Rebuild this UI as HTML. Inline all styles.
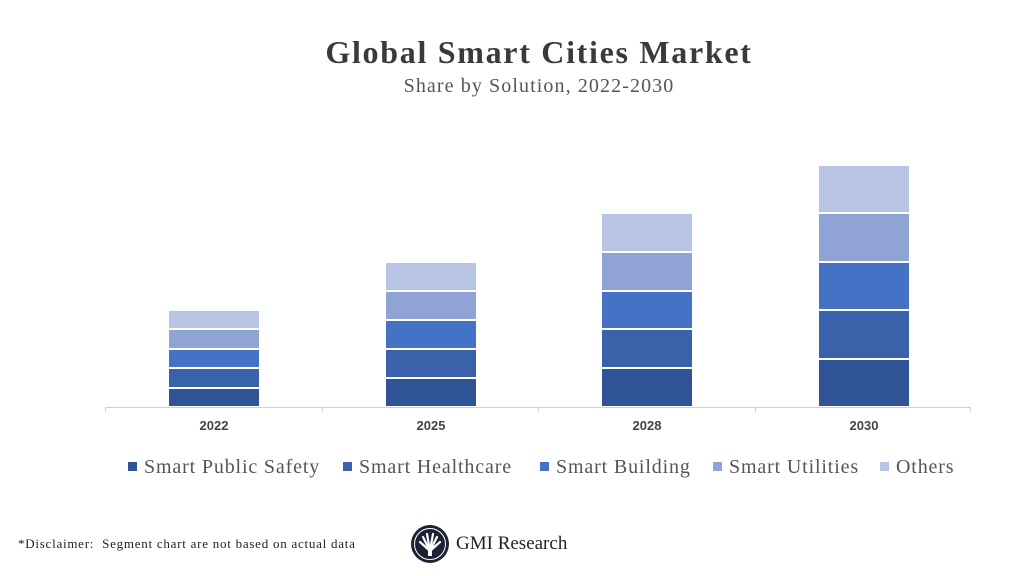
<!DOCTYPE html><html><head><style>
body{margin:0;width:1024px;height:576px;background:#fff;position:relative;overflow:hidden;font-family:"Liberation Serif",serif}
.t{position:absolute;left:27px;width:1024px;text-align:center}
.bar{position:absolute;width:90px;display:flex;flex-direction:column;gap:2px;bottom:170px}
.bar div{flex:1}
.s5{background:#b8c4e3}.s4{background:#8fa4d5}.s3{background:#4472c4}.s2{background:#3a62ab}.s1{background:#2f5394}
.xl{position:absolute;top:418px;width:90px;text-align:center;font:bold 13px "Liberation Sans",sans-serif;color:#444}
.tk{position:absolute;top:407px;width:1px;height:5px;background:#d0d0d0}
.lg{position:absolute;top:456px;font-size:20px;letter-spacing:0.85px;color:#555;white-space:nowrap}
.lg i{display:inline-block;width:9px;height:9px;margin-right:7px;vertical-align:2px}
</style></head><body>
<div class="t" style="top:34px;font-size:32px;font-weight:bold;color:#3a3a3a;letter-spacing:1.7px">Global Smart Cities Market</div>
<div class="t" style="top:75px;font-size:20px;color:#555;letter-spacing:1.1px">Share by Solution, 2022-2030</div>
<div style="position:absolute;left:105px;top:407px;width:866px;height:1px;background:#d0d0d0"></div>
<div class="tk" style="left:105px"></div><div class="tk" style="left:322px"></div><div class="tk" style="left:538px"></div><div class="tk" style="left:755px"></div><div class="tk" style="left:970px"></div>
<div class="bar" style="left:169px;height:95px"><div class="s5"></div><div class="s4"></div><div class="s3"></div><div class="s2"></div><div class="s1"></div></div>
<div class="bar" style="left:386px;height:143px"><div class="s5"></div><div class="s4"></div><div class="s3"></div><div class="s2"></div><div class="s1"></div></div>
<div class="bar" style="left:602px;height:192px"><div class="s5"></div><div class="s4"></div><div class="s3"></div><div class="s2"></div><div class="s1"></div></div>
<div class="bar" style="left:819px;height:240px"><div class="s5"></div><div class="s4"></div><div class="s3"></div><div class="s2"></div><div class="s1"></div></div>
<div class="xl" style="left:169px">2022</div><div class="xl" style="left:386px">2025</div><div class="xl" style="left:602px">2028</div><div class="xl" style="left:819px">2030</div>
<div class="lg" style="left:128px"><i class="s1"></i>Smart Public Safety</div>
<div class="lg" style="left:343px"><i class="s2"></i>Smart Healthcare</div>
<div class="lg" style="left:540px"><i class="s3"></i>Smart Building</div>
<div class="lg" style="left:713px"><i class="s4"></i>Smart Utilities</div>
<div class="lg" style="left:880px"><i class="s5"></i>Others</div>
<div style="position:absolute;left:18px;top:536px;font-size:13px;color:#222;letter-spacing:0.75px">*Disclaimer:&nbsp; Segment chart are not based on actual data</div>
<svg style="position:absolute;left:410px;top:524px" width="40" height="40" viewBox="0 0 40 40"><circle cx="20" cy="20" r="19" fill="#1a2233"/><circle cx="20" cy="20" r="15.5" fill="none" stroke="#fff" stroke-width="1"/><g stroke="#fff" stroke-width="2.2" stroke-linecap="round"><line x1="20" y1="27" x2="10" y2="18"/><line x1="20" y1="27" x2="13" y2="13"/><line x1="20" y1="27" x2="17" y2="10"/><line x1="20" y1="27" x2="23" y2="10"/><line x1="20" y1="27" x2="27" y2="13"/><line x1="20" y1="27" x2="30" y2="18"/></g><rect x="18" y="26" width="4" height="6" fill="#fff"/></svg>
<div style="position:absolute;left:456px;top:533px;font-size:19px;color:#222">GMI Research</div>
</body></html>
